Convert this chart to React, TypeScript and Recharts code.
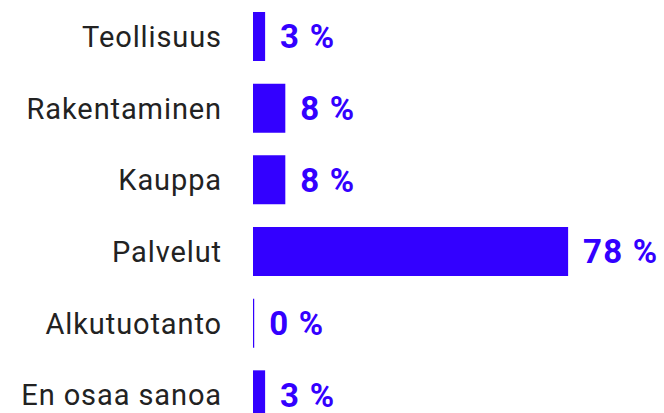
import React from "react";
import { BarChart, Bar, XAxis, YAxis, LabelList } from "recharts";

const categories = ["Teollisuus", "Rakentaminen", "Kauppa", "Palvelut", "Alkutuotanto", "En osaa sanoa"];
const shares = [3, 8, 8, 78, 0.3, 3];

const BAR_COLOR = "#3300ff";

const data = categories.map((name, i) => ({ name, value: shares[i] }));

export default function App() {
  return (
    <div style={{ position: "absolute", left: 0, top: 0, width: 664, height: 413, overflow: "hidden", background: "#fff" }}>
      <BarChart
        width={664}
        height={432}
        data={data}
        layout="vertical"
        margin={{ top: 1, right: 7, bottom: 1, left: 0 }}
        barSize={49}
      >
        <XAxis type="number" domain={[0, 100]} hide />
        <YAxis
          type="category"
          dataKey="name"
          width={253}
          axisLine={false}
          tickLine={false}
          tickSize={0}
          tickMargin={31}
          tick={{ fontSize: 29, fill: "#222", fontFamily: "Roboto", letterSpacing: 0.9 }}
        />
        <Bar dataKey="value" fill={BAR_COLOR} isAnimationActive={false}>
          <LabelList
            dataKey="value"
            position="right"
            offset={15}
            formatter={(v: number) => `${Math.round(v)} %`}
            style={{ fontSize: 33, fontWeight: 700, fill: BAR_COLOR, fontFamily: "Roboto", letterSpacing: 1.2 }}
          />
        </Bar>
      </BarChart>
    </div>
  );
}
